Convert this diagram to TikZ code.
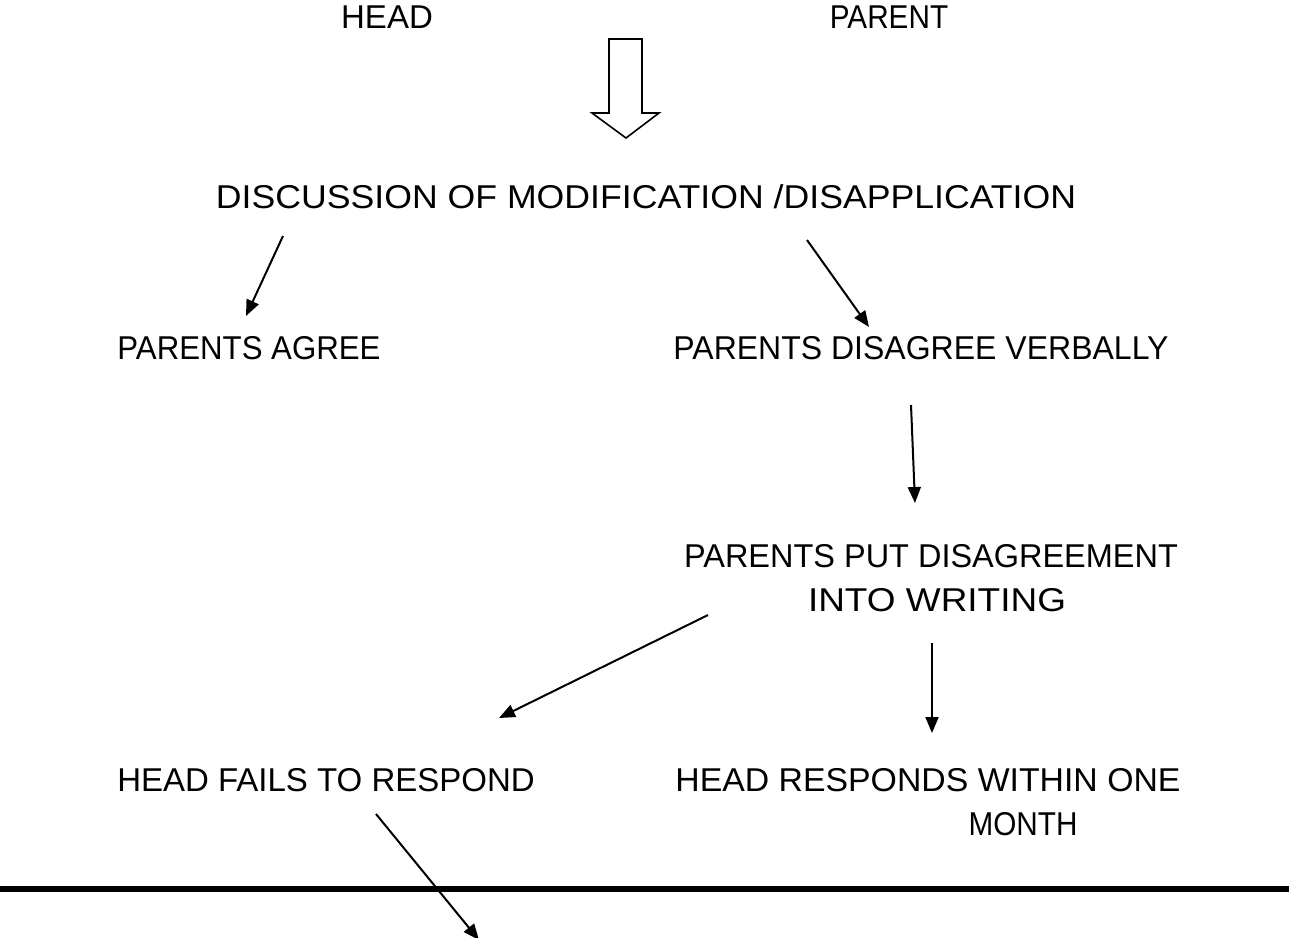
\documentclass[tikz,border=0pt]{standalone}
\usepackage{fontspec}
\setmainfont{Liberation Sans}
\usetikzlibrary{arrows.meta}
\newcommand{\sx}[2]{\scalebox{#1}[1]{#2}}
\begin{document}
\begin{tikzpicture}[x=0.5pt,y=-0.5pt,
  lbl/.style={inner sep=0pt,font=\fontsize{16.5}{22}\selectfont},
  conn/.style={line width=1pt,-{Triangle[length=8pt,width=6.5pt]}},
  bigarrow/.style={line width=0.8pt,fill=white},
  rule/.style={line width=3pt}]
\useasboundingbox (0,0) rectangle (1289,937);
% text nodes
\node[lbl] (head) at (387,17) {HEAD};
\node[lbl] (parent) at (889,17) {\sx{0.9}{PARENT}};
\node[lbl] (disc) at (646,197) {\sx{1.08}{DISCUSSION OF MODIFICATION /DISAPPLICATION}};
\node[lbl] (agree) at (249,348) {\sx{0.946}{PARENTS AGREE}};
\node[lbl] (disagree) at (921,348) {\sx{0.97}{PARENTS DISAGREE VERBALLY}};
\node[lbl] (put) at (931,556) {\sx{0.984}{PARENTS PUT DISAGREEMENT}};
\node[lbl] (putb) at (937,600) {\sx{1.12}{INTO WRITING}};
\node[lbl] (fails) at (326,780) {HEAD FAILS TO RESPOND};
\node[lbl] (responds) at (928,780) {\sx{1.024}{HEAD RESPONDS WITHIN ONE}};
\node[lbl] (month) at (1023,824) {\sx{0.9}{MONTH}};
% hollow block arrow
\coordinate (ba1) at (609,39);
\coordinate (ba2) at (642,39);
\coordinate (ba3) at (642,113);
\coordinate (ba4) at (659,113);
\coordinate (ba5) at (626,138);
\coordinate (ba6) at (592,113);
\coordinate (ba7) at (609,113);
\draw[bigarrow] (ba1) -- (ba2) -- (ba3) -- (ba4) -- (ba5) -- (ba6) -- (ba7) -- cycle;
% connector end points
\coordinate (c1s) at (283,236); \coordinate (c1e) at (246,316);
\coordinate (c2s) at (807,240); \coordinate (c2e) at (869,327);
\coordinate (c3s) at (911,405); \coordinate (c3e) at (915,503);
\coordinate (c4s) at (708,615); \coordinate (c4e) at (499,718);
\coordinate (c5s) at (932,643); \coordinate (c5e) at (932,733);
\coordinate (c6s) at (376,814); \coordinate (c6e) at (479,940);
\coordinate (rl) at (0,889); \coordinate (rr) at (1289,889);
\draw[rule] (rl) -- (rr);
\draw[conn] (c1s) -- (c1e);
\draw[conn] (c2s) -- (c2e);
\draw[conn] (c3s) -- (c3e);
\draw[conn] (c4s) -- (c4e);
\draw[conn] (c5s) -- (c5e);
\draw[conn] (c6s) -- (c6e);
\end{tikzpicture}
\end{document}
